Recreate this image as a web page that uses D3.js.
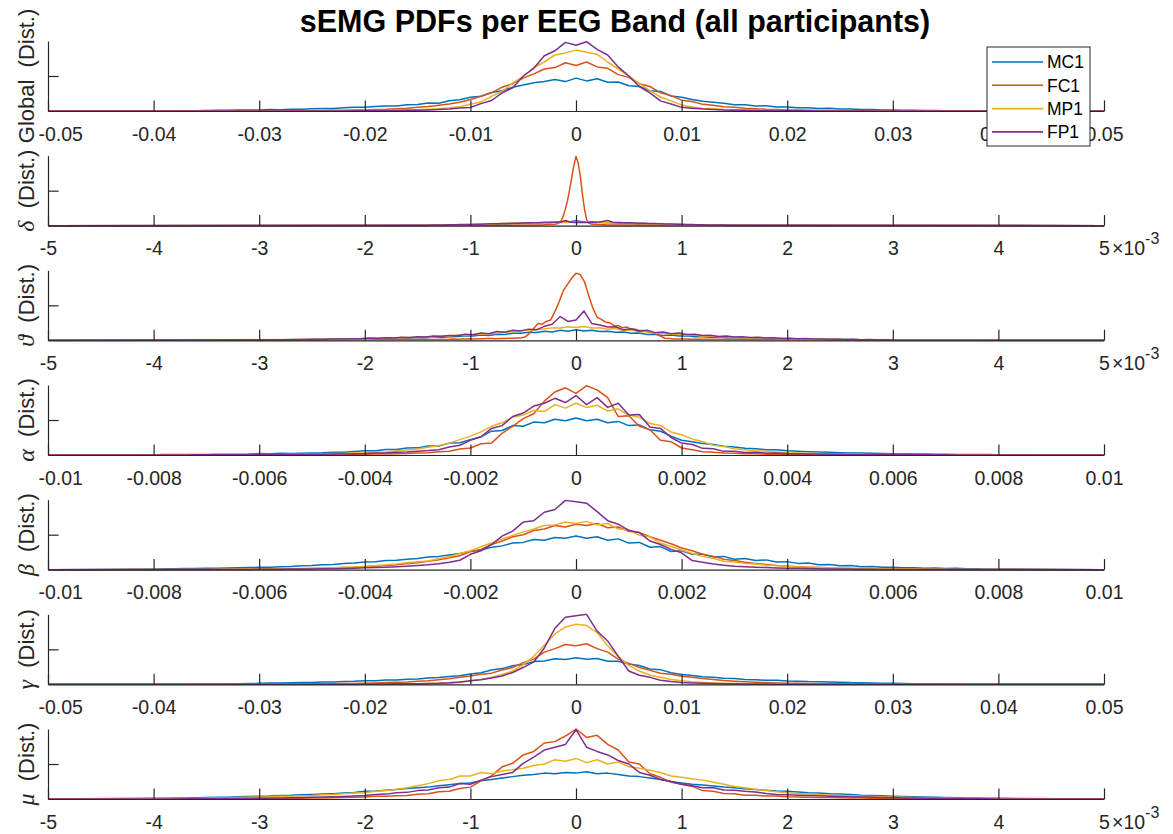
<!DOCTYPE html>
<html>
<head>
<meta charset="utf-8">
<script src="https://cdn.jsdelivr.net/npm/d3@7"></script>
<style>
  body { margin: 0; background: #fff; }
  svg { display: block; }
  text { font-family: "Liberation Sans", Arial, Helvetica, sans-serif; }
</style>
</head>
<body>
<svg id="chart" width="1173" height="834"></svg>
<script>
// ---------- labels & ticks ----------
const chartTitle = "sEMG PDFs per EEG Band (all participants)";
const seriesNames = ["MC1", "FC1", "MP1", "FP1"];

const xTicksWide = [-0.05, -0.04, -0.03, -0.02, -0.01, 0, 0.01, 0.02, 0.03, 0.04, 0.05];
const xTickLabelsWide = ["-0.05", "-0.04", "-0.03", "-0.02", "-0.01", "0", "0.01", "0.02", "0.03", "0.04", "0.05"];
const xTicksMilli = [-5, -4, -3, -2, -1, 0, 1, 2, 3, 4, 5];
const xTickLabelsMilli = ["-5", "-4", "-3", "-2", "-1", "0", "1", "2", "3", "4", "5"];
const xTicksNarrow = [-0.01, -0.008, -0.006, -0.004, -0.002, 0, 0.002, 0.004, 0.006, 0.008, 0.01];
const xTickLabelsNarrow = ["-0.01", "-0.008", "-0.006", "-0.004", "-0.002", "0", "0.002", "0.004", "0.006", "0.008", "0.01"];

// ---------- histogram bin centres ----------
const gridWide = d3.range(-40, 41).map(k => k * 0.001);
const gridNarrow = d3.range(-40, 41).map(k => k * 0.0002);
const gridDeltaBroad = d3.range(-30, 31).map(k => k * 0.05);
const gridDeltaPeak = d3.range(-20, 21).map(k => k * 0.02);
const gridThetaBroad = d3.range(-40, 41).map(k => k * 0.075);
const gridThetaPeak = d3.range(-30, 31).map(k => k * 0.04);
const gridMu = d3.range(-40, 41).map(k => k * 0.1);

// ---------- densities (percent of axis height) ----------
const globalMC1 = [0,0,0.2,0.3,0.5,0.6,0.9,1,1.4,1.3,
  1.6,2,1.8,2.6,2.4,3.2,3.6,3.4,4.5,5.2,
  5.3,6.4,7,7.2,8.9,9.4,11.5,11,14.5,16,
  19.5,21,26.5,29,34,37,40.5,42,45,42,
  47,
  43,46,41,41.5,36,35,29,28,21.5,19.5,
  16.5,14,12.5,11,9,8.8,7.2,7.4,5.7,5.8,
  4.6,4.8,3.6,3.8,2.8,3,2.2,2.1,1.6,1.6,
  1.2,1.1,0.8,0.8,0.5,0.4,0.3,0.2,0.1,0];
const globalFC1 = [0,0,0,0,0,0,0,0,0.1,0.1,
  0.2,0.2,0.3,0.3,0.4,0.5,0.6,0.9,1,1.3,
  1.6,2.1,2.5,3.3,4,5.2,6.3,8.2,10,12.5,
  16.5,21,26,34,39,47,53,60,62,69,
  65,
  70,63,61,52,48,39,35,26,22,15.5,
  13.5,9.5,8.3,6.2,5.3,3.8,3.3,2.5,2.1,1.5,
  1.3,0.9,0.8,0.6,0.5,0.4,0.3,0.3,0.2,0.2,
  0.1,0.1,0,0,0,0,0,0,0,0];
const globalMP1 = [0,0,0,0,0,0,0,0,0,0,
  0,0,0,0,0,0.1,0.1,0.2,0.3,0.4,
  0.5,0.6,0.8,1,1.3,1.8,2.4,3.2,4.5,6.2,
  9.5,13,21,28,40,49,62,70,80,83,
  87,
  84,81,70,60,50,39,29,20,14.5,8.7,
  5.8,4.1,3.3,2.3,1.9,1.2,1,0.8,0.6,0.5,
  0.4,0.3,0.2,0.1,0.1,0,0,0,0,0,
  0,0,0,0,0,0,0,0,0,0];
const globalFP1 = [0,0,0,0,0,0,0,0,0,0,
  0,0,0,0,0,0,0,0.1,0.1,0.2,
  0.3,0.4,0.5,0.6,0.9,1.2,1.6,2.2,3,4.2,
  5,10.5,15,26,33,50,61,79,86,98,
  94,
  99,88,80,63,50,35,26,14.5,10,5.2,
  4,2.8,2.3,1.5,1.2,0.9,0.6,0.5,0.4,0.3,
  0.2,0.2,0.1,0.1,0,0,0,0,0,0,
  0,0,0,0,0,0,0,0,0,0];

const deltaMC1 = [0.3,0.4,0.4,0.5,0.6,0.6,0.8,0.8,1,1.1,
  1.3,1.4,1.6,1.8,2,2.2,2.5,2.8,3,3.2,
  3.5,3.6,4,4.2,4.6,4.4,5,5.5,5.2,6,
  7,
  6,5.3,5.5,4.8,4.7,4.2,4.3,3.8,3.7,3.3,
  3.1,2.9,2.6,2.4,2.2,2,1.8,1.6,1.5,1.3,
  1.2,1,0.9,0.8,0.7,0.6,0.5,0.5,0.4,0.3];
const deltaFC1 = [0.8,0.8,1,1,1.1,1.2,1.3,1.5,1.6,1.8,
  2,2.8,4,7,14,24,36,52,69,86,
  99,
  90,72,46,24,9,4,2.5,2,1.8,1.6,
  1.5,1.4,1.3,1.2,1.1,1,1,0.9,0.8,0.8];
const deltaMP1 = [0.3,0.4,0.5,0.6,0.6,0.8,0.9,1,1.2,1.3,
  1.5,1.7,2,2.2,2.5,2.7,3,3.3,3.5,3.8,
  4,4.3,4.1,4.6,4.4,4.8,4.5,5,4.6,5,
  5.2,
  4.8,5.1,4.6,4.9,4.4,4.7,4.2,4.4,4,3.8,
  3.6,3.4,3.1,2.8,2.6,2.3,2.1,1.8,1.6,1.4,
  1.3,1.1,1,0.9,0.7,0.6,0.5,0.4,0.4,0.3];
const deltaFP1 = [0.5,0.6,0.7,0.8,1,1,1.2,1.3,1.5,1.6,
  1.8,2,2.1,2.4,2.6,2.8,3,3.2,3.4,3.6,
  3.8,4,4.1,4.3,4.5,4.4,4.8,5,7.5,5,
  4.5,
  4.8,4.6,5,4.7,6,7.5,4.8,4.5,4.2,4,
  3.8,3.6,3.4,3.2,3,2.8,2.5,2.3,2.1,1.9,
  1.7,1.5,1.4,1.2,1.1,1,0.9,0.8,0.7,0.6];

const thetaMC1 = [0.5,0.8,0.6,0.9,1.1,0.9,1.3,1.1,1.5,1.4,
  1.8,1.6,2.1,2,2.5,2.3,3,2.7,3.4,3.3,
  4,3.7,4.6,4.1,5.2,5.4,6.5,6.2,7.5,7,
  8.8,8.5,10,10.2,11.5,11.2,13,12,14.5,13,
  15,
  13.5,14.5,12.5,13,11.5,12,10,10.5,8.5,8.5,
  7,7.5,6.2,6.5,5.3,5.2,4.3,4.6,3.8,4,
  3.4,3.3,2.9,3.1,2.4,2.5,2,2.3,1.7,1.7,
  1.6,1.3,1.4,1.1,1.1,0.8,0.9,0.6,0.7,0.4];
const thetaFC1 = [1.5,1.8,1.6,2,1.9,2.2,2,2.4,2.3,2.5,
  2.6,2.4,2.8,2.7,3,2.9,3.2,3.5,5,10,
  17,24,23,27,29,41,55,71,80,89,
  96,
  94,84,64,46,33,30,26,25,21,21,
  18,19,16,16,14,14,12,11,9,6,
  3,2.5,2,2,1.8,1.8,1.6,1.6,1.5,1.4];
const thetaMP1 = [0.4,0.6,0.5,0.8,0.7,1.1,0.9,1.4,1.2,1.6,
  1.5,1.9,1.9,2.5,2.3,3.1,2.9,3.7,3.4,4.2,
  4.1,5,4.8,6,5.9,7.6,7,8.5,8.7,9.5,
  10.2,11.8,12.4,13.5,14.8,15.5,16.4,17.8,17.5,19.5,
  18.5,
  19.8,17.5,18,16,16.8,14.2,14.8,12.4,12.8,10.3,
  10.2,8.6,9,7.2,7.6,6,6.3,5,5.3,4.2,
  4.1,3.5,3.6,2.9,3,2.4,2.5,1.9,2,1.5,
  1.5,1.2,1.2,0.9,1,0.7,0.7,0.5,0.5,0.4];
const thetaFP1 = [0.7,0.9,0.8,1,0.9,1.2,1.1,1.4,1.3,1.8,
  2,1.9,2.4,2.6,3.2,3,3.7,3.4,4.4,4,
  5.2,4.8,6.3,5.7,7,6.6,8.8,8,10.5,9.5,
  12.5,11.5,14.5,13.5,16,15,20,23,34,27,
  29,
  42,24,22,19,19.5,15,16.5,13,14.5,11,
  12,9.5,10.5,8.2,8.8,6.8,7.4,5.6,6.2,4.8,
  5,3.9,4.4,3.3,3.6,2.8,3.1,2.3,2.5,1.9,
  2,1.6,1.7,1.3,1.4,1,1.2,0.8,0.9,0.6];

const alphaMC1 = [0.5,0.6,0.6,0.7,0.8,0.9,1,1.1,1.2,1.4,
  2,1.8,2.4,2.2,2.6,3,3.2,3.8,4.1,4.9,
  6,6.2,8,7.8,10,10.2,13,12.8,17,17.5,
  22,26,34,35,42,41,47,46,51,49,
  53,
  49,51,46,48,42,43,36,34,27,21,
  19,16.5,15,12.5,11.5,9.8,9,7.6,7.4,6,
  5.4,4.8,4.2,3.8,3.4,3,2.7,2.4,2.2,1.9,
  1.7,1.5,1.3,1.2,1.1,0.9,0.8,0.7,0.6,0.5];
const alphaFC1 = [0,0,0,0,0,0,0.1,0.1,0.1,0.2,
  0.2,0.3,0.3,0.4,0.4,0.5,0.6,0.7,0.8,0.9,
  1,1.3,1.4,1.9,2,2.8,3.2,4.8,5.5,8.5,
  10,16,17,31,41,52,59,77,90,96,
  88,
  99,93,82,55,56,41,36,21,19,10,
  7.5,4.6,3.8,2.7,2.4,1.8,1.7,1.2,1.1,0.8,
  0.8,0.6,0.6,0.5,0.4,0.3,0.3,0.2,0.2,0.1,
  0.1,0.1,0,0,0,0,0,0,0,0];
const alphaMP1 = [0.1,0.1,0.1,0.2,0.2,0.3,0.3,0.4,0.4,0.5,
  0.7,0.8,0.9,1,1.2,1.5,1.7,2,2.3,2.7,
  3,3.8,4.4,5.6,7,8.7,11,13.5,17,22,
  27,33,41,46,54,57,64,62,72,67,
  74,
  68,71,63,66,57,54,45,42,33,29,
  23,19,14,12,9,7.5,6,5,4.2,3.2,
  2.9,2.4,2.1,1.8,1.5,1.3,1.1,0.9,0.8,0.7,
  0.6,0.5,0.4,0.3,0.3,0.2,0.2,0.1,0.1,0.1];
const alphaFP1 = [0,0,0.1,0.1,0.2,0.2,0.3,0.3,0.4,0.4,
  0.5,0.6,0.6,0.8,0.9,1,1.1,1.3,1.5,1.8,
  2,2.7,3,3.8,4.2,5.5,6.3,7.5,11.5,14,
  21,26,38,42,55,60,70,74,81,75,
  85,
  72,82,68,74,57,58,40,38,25,17,
  15,9.5,8.8,5.2,5.5,3.6,3.8,2.6,2.7,1.8,
  1.9,1.4,1.5,1.1,1.1,0.9,0.8,0.7,0.6,0.5,
  0.4,0.4,0.3,0.2,0.2,0.1,0.1,0.1,0,0];

const betaMC1 = [1,1.3,1.4,1.6,1.8,2.1,2.2,2.5,2.7,3,
  3.3,3.6,4.3,4.5,5.5,6,7,7.5,9,9.5,
  11,11.5,13,13.5,15,16,18,19,21,23,
  26,28,32,34,38,39,43,42,46,45,
  48,
  45,47,42,44,38,39,32,33,26,27,
  22,22,18,19,15,16,13,14,11,11.5,
  9,9.5,7,7.5,5.5,6,4.3,4.6,3.3,3.5,
  2.7,2.9,2.2,2.4,1.8,1.9,1.4,1.5,1,1.1];
const betaFC1 = [0.1,0.1,0.2,0.2,0.3,0.3,0.4,0.5,0.5,0.6,
  0.8,0.9,1.1,1.3,1.5,1.8,2.1,2.5,3,3.4,
  4.2,5,6,7,8.6,10,12,14,17,20,
  26,29,36,41,47,50,56,58,63,61,
  65,
  63,66,60,61,55,53,47,42,37,31,
  27,22,19,15,13,10.5,9,7.5,6,5,
  4.2,3.6,3,2.6,2.2,1.8,1.5,1.3,1.1,0.9,
  0.8,0.7,0.6,0.5,0.4,0.3,0.3,0.2,0.2,0.1];
const betaMP1 = [0.2,0.2,0.3,0.3,0.3,0.4,0.5,0.5,0.6,0.7,
  1,1.1,1.3,1.5,1.7,2.1,2.4,2.9,3.3,3.8,
  5,5.5,7,8,10,11.5,12.5,16,18.5,23,
  27,33,38,44,49,54,58,63,64,68,
  66,
  69,64,66,58,57,49,47,38,33,28,
  23,19,16,12,11,9,8,6.5,5.8,5,
  4.3,3.6,3.1,2.7,2.3,2,1.7,1.4,1.2,1,
  0.9,0.8,0.7,0.6,0.5,0.4,0.3,0.3,0.2,0.2];
const betaFP1 = [0,0,0.1,0.1,0.1,0.2,0.2,0.3,0.3,0.4,
  0.5,0.6,0.7,0.8,0.9,1.1,1.3,1.5,1.8,2.1,
  2.6,3,3.5,4.2,5,6,7,8.5,10.5,13.5,
  22,27,36,48,55,68,70,82,86,99,
  97,
  95,83,70,65,56,53,41,36,29,24,
  13,10.5,8,6.5,5,4.2,3.5,3,2.5,2,
  1.9,1.6,1.3,1.1,0.9,0.8,0.6,0.5,0.4,0.3,
  0.3,0.2,0.2,0.1,0.1,0.1,0,0,0,0];

const gammaMC1 = [0,0.1,0.2,0.3,0.4,0.4,0.6,0.7,0.9,1.1,
  1.4,1.8,2,2.2,2.7,2.8,3.3,3.5,4.1,4.3,
  5,5.3,6.2,6.3,7.4,7.8,9.2,9.8,11.3,12.2,
  14.8,16.5,20.5,22.5,26.5,28.5,32.5,33.5,36.5,35.5,
  38,
  36,37,33,33,29,27,22,21,16.5,14,
  12.8,11,10.2,8.7,8.2,7,6.7,5.8,5.7,4.8,
  4.6,3.9,3.8,3.3,3.1,2.5,2.3,1.9,1.7,1.4,
  1.2,1,0.8,0.7,0.5,0.4,0.3,0.2,0.1,0];
const gammaFC1 = [0,0,0,0,0,0.1,0.1,0.1,0.1,0.2,
  0.3,0.3,0.4,0.5,0.6,0.7,0.8,1,1.1,1.3,
  1.6,2,2.5,3,3.5,4.6,5.3,6.6,8,10,
  12,14.5,16,20.5,24,31,36,46,51,57,
  55,
  58,51,46,36,30,24,20,16,14.5,11.5,
  10,8.2,6.8,5.5,4.5,3.6,3,2.5,2,1.6,
  1.4,1.2,1,0.8,0.7,0.6,0.5,0.4,0.3,0.3,
  0.2,0.2,0.1,0.1,0.1,0,0,0,0,0];
const gammaMP1 = [0,0,0,0,0,0,0,0,0,0,
  0,0,0,0,0,0.1,0.1,0.1,0.2,0.2,
  0.3,0.3,0.4,0.5,0.6,0.8,1.1,1.5,2.1,2.8,
  5,7,10,14,19,28,40,56,72,82,
  86,
  84,74,55,40,27,19,13,10,7,5,
  3.6,2.7,2,1.5,1.1,0.8,0.6,0.5,0.4,0.3,
  0.2,0.2,0.1,0.1,0.1,0,0,0,0,0,
  0,0,0,0,0,0,0,0,0,0];
const gammaFP1 = [0,0,0,0,0,0,0,0,0,0,
  0,0,0,0,0,0.1,0.1,0.2,0.2,0.3,
  0.4,0.5,0.6,0.7,0.8,1,1.2,1.5,2.3,3.5,
  5,6.5,9,12,17,24,32,52,80,96,
  98,
  100,76,62,40,19,13,10,6,4,2.5,
  2,1.5,1.2,1,0.8,0.6,0.5,0.4,0.3,0.2,
  0.2,0.1,0.1,0,0,0,0,0,0,0,
  0,0,0,0,0,0,0,0,0,0];

const muMC1 = [1,1.2,1.5,1.6,1.9,2.1,2.5,2.7,3.2,3.5,
  4,4.3,5,5.3,6,6.4,7,7.6,8.5,9.2,
  11,11.5,12.5,13.5,15,16,17,19,20.5,22,
  23,26,28,30,32,34,35,37,36,38,
  37,
  39,36,37,35,33,32,30,28,25,23,
  21,20,18.5,17,16,14.5,13.5,12.5,11.5,11,
  10,9,8.5,7.5,7,6.5,5.5,5,4.5,4,
  3.5,3.2,2.8,2.4,2.2,1.8,1.6,1.4,1.2,1];
const muFC1 = [0.1,0.1,0.2,0.2,0.2,0.3,0.4,0.4,0.5,0.6,
  0.7,0.8,0.9,1.1,1.2,1.5,1.6,1.8,2.2,2.5,
  3,3.8,4,4.8,5,6.8,7.5,10.5,11,15,
  17,26,33,46,51,63,68,80,82,90,
  100,
  88,91,78,70,53,50,36,31,24,21,
  18,12,11,8,7.5,5.5,5.3,4.2,4.2,3.2,
  3,2.6,2.3,2.1,1.8,1.6,1.3,1.1,0.9,0.8,
  0.7,0.6,0.5,0.5,0.4,0.3,0.3,0.2,0.2,0.1];
const muMP1 = [0.4,0.5,0.6,0.8,0.9,1.1,1.3,1.6,2,2.4,
  3,3.2,3.8,4,4.8,5.2,6,6.5,7.5,8.5,
  9,11,12,14,16,19,22,26,28,33,
  33,38,36,40,42,44,48,50,56,54,
  58,
  52,56,50,53,46,44,41,38,33,31,
  29,27,24,21,18,16,14,12,10.5,9,
  8,7,6.5,5.5,5,4.5,4,3.6,3.2,3,
  2.4,2,1.8,1.5,1.3,1.1,0.9,0.7,0.6,0.4];
const muFP1 = [0.1,0.2,0.2,0.3,0.3,0.4,0.5,0.6,0.7,0.8,
  1.2,1.3,1.6,1.9,2.2,2.5,2.8,3.2,3.7,4.3,
  5,6.5,7,9,9.5,12,13,16,17,22,
  21,27,32,35,38,51,60,70,74,78,
  99,
  74,68,63,55,50,38,34,28,25,21,
  19,16,16,13,12.5,11,10,8,6.5,6,
  5.5,5,4.5,4,3.5,3.2,2.8,2.5,2.2,2,
  1.6,1.4,1.2,1,0.8,0.7,0.5,0.4,0.3,0.2];

// ---------- panel descriptions ----------
const panels = [
  { label: "Global", greek: false, domain: [-0.05, 0.05], ticks: xTicksWide, tickLabels: xTickLabelsWide, exponent: null,
    series: [[gridWide, globalMC1], [gridWide, globalFC1], [gridWide, globalMP1], [gridWide, globalFP1]] },
  { label: "\u03B4", greek: true, domain: [-5, 5], ticks: xTicksMilli, tickLabels: xTickLabelsMilli, exponent: "-3",
    series: [[gridDeltaBroad, deltaMC1], [gridDeltaPeak, deltaFC1], [gridDeltaBroad, deltaMP1], [gridDeltaBroad, deltaFP1]] },
  { label: "\u03D1", greek: true, domain: [-5, 5], ticks: xTicksMilli, tickLabels: xTickLabelsMilli, exponent: "-3",
    series: [[gridThetaBroad, thetaMC1], [gridThetaPeak, thetaFC1], [gridThetaBroad, thetaMP1], [gridThetaBroad, thetaFP1]] },
  { label: "\u03B1", greek: true, domain: [-0.01, 0.01], ticks: xTicksNarrow, tickLabels: xTickLabelsNarrow, exponent: null,
    series: [[gridNarrow, alphaMC1], [gridNarrow, alphaFC1], [gridNarrow, alphaMP1], [gridNarrow, alphaFP1]] },
  { label: "\u03B2", greek: true, domain: [-0.01, 0.01], ticks: xTicksNarrow, tickLabels: xTickLabelsNarrow, exponent: null,
    series: [[gridNarrow, betaMC1], [gridNarrow, betaFC1], [gridNarrow, betaMP1], [gridNarrow, betaFP1]] },
  { label: "\u03B3", greek: true, domain: [-0.05, 0.05], ticks: xTicksWide, tickLabels: xTickLabelsWide, exponent: null,
    series: [[gridWide, gammaMC1], [gridWide, gammaFC1], [gridWide, gammaMP1], [gridWide, gammaFP1]] },
  { label: "\u03BC", greek: true, domain: [-5, 5], ticks: xTicksMilli, tickLabels: xTickLabelsMilli, exponent: "-3",
    series: [[gridMu, muMC1], [gridMu, muFC1], [gridMu, muMP1], [gridMu, muFP1]] }
];

// ---------- layout & style ----------
const plotLeft = 48, plotRight = 1104;
const firstBaseline = 111, rowStep = 114.67, plotHeight = 70, tickLen = 10.6;
const lineColors = ["#0072BD", "#D95319", "#EDB120", "#7E2F8E"];
const axisColor = "#262626";
const tickFont = 19.5, labelFont = 22, greekFont = 24;

const svg = d3.select("#chart");

svg.append("text")
  .attr("x", 615)
  .attr("y", 32)
  .attr("text-anchor", "middle")
  .style("font-weight", "bold")
  .style("font-size", "30.5px")
  .attr("fill", "#000")
  .text(chartTitle);

panels.forEach((p, i) => {
  const baseline = firstBaseline + i * rowStep;
  const top = baseline - plotHeight;
  const x = d3.scaleLinear().domain(p.domain).range([plotLeft, plotRight]);
  const y = d3.scaleLinear().domain([0, 100]).range([baseline, top]);

  const clipId = "plot-clip-" + i;
  svg.append("clipPath").attr("id", clipId)
    .append("rect")
    .attr("x", plotLeft).attr("y", top - 1)
    .attr("width", plotRight - plotLeft).attr("height", plotHeight + 2);

  const plot = svg.append("g").attr("clip-path", `url(#${clipId})`);
  const line = d3.line().x(d => x(d[0])).y(d => y(d[1]));

  p.series.forEach(([grid, vals], j) => {
    const pts = [[p.domain[0], 0]]
      .concat(grid.map((gx, k) => [gx, vals[k]]))
      .concat([[p.domain[1], 0]]);
    plot.append("path")
      .attr("d", line(pts))
      .attr("fill", "none")
      .attr("stroke", lineColors[j])
      .attr("stroke-width", 1.5)
      .attr("stroke-linejoin", "round");
  });

  // x axis with inward ticks
  const xa = svg.append("g")
    .attr("transform", `translate(0,${baseline})`)
    .call(d3.axisBottom(x)
      .tickValues(p.ticks)
      .tickFormat((d, k) => p.tickLabels[k])
      .tickSizeInner(-tickLen)
      .tickSizeOuter(0)
      .tickPadding(15.7));
  xa.attr("font-size", null).attr("font-family", null);
  xa.selectAll("path, line").attr("stroke", axisColor).attr("stroke-width", 1.2);
  xa.selectAll("text").attr("fill", axisColor).style("font-size", tickFont + "px");
  xa.selectAll(".tick text").each(function (d) {
    const b = this.getBBox();
    const left = x(d) + b.x;
    if (left < 38) d3.select(this).attr("x", 38 - left);
  });

  // y axis: single unlabelled mid tick
  const ya = svg.append("g")
    .attr("transform", `translate(${plotLeft},0)`)
    .call(d3.axisLeft(y).tickValues([50]).tickFormat("").tickSizeInner(-tickLen).tickSizeOuter(0));
  ya.selectAll("path, line").attr("stroke", axisColor).attr("stroke-width", 1.2);

  // y label
  const lab = svg.append("text")
    .attr("transform", `translate(34,${(top + baseline) / 2}) rotate(-90)`)
    .attr("text-anchor", "middle")
    .attr("fill", axisColor)
    .style("font-size", labelFont + "px")
    .style("white-space", "pre");
  if (p.greek) {
    lab.append("tspan")
      .style("font-family", "'Liberation Serif','DejaVu Serif',serif")
      .style("font-style", "italic")
      .style("font-size", greekFont + "px")
      .text(p.label);
  } else {
    lab.append("tspan").text(p.label);
  }
  lab.append("tspan").text("  (Dist.)");

  // exponent note at the right end of the axis
  if (p.exponent) {
    const ex = svg.append("text")
      .attr("x", x(p.domain[1]) + 8)
      .attr("y", baseline + 29.5)
      .attr("fill", axisColor)
      .style("font-size", tickFont + "px");
    ex.append("tspan").text("\u00D710");
    ex.append("tspan").attr("dy", -11).style("font-size", "16px").text(p.exponent);
  }
});

// legend
const legend = svg.append("g");
legend.append("rect")
  .attr("x", 987).attr("y", 47).attr("width", 103).attr("height", 99)
  .attr("fill", "#fff").attr("stroke", axisColor).attr("stroke-width", 1);
seriesNames.forEach((name, j) => {
  const cy = 62 + j * 23.3;
  legend.append("line")
    .attr("x1", 992).attr("x2", 1043).attr("y1", cy).attr("y2", cy)
    .attr("stroke", lineColors[j]).attr("stroke-width", 1.6);
  legend.append("text")
    .attr("x", 1047).attr("y", cy).attr("dy", "0.36em")
    .attr("fill", "#000")
    .style("font-size", "17.5px")
    .text(name);
});
</script>
</body>
</html>
